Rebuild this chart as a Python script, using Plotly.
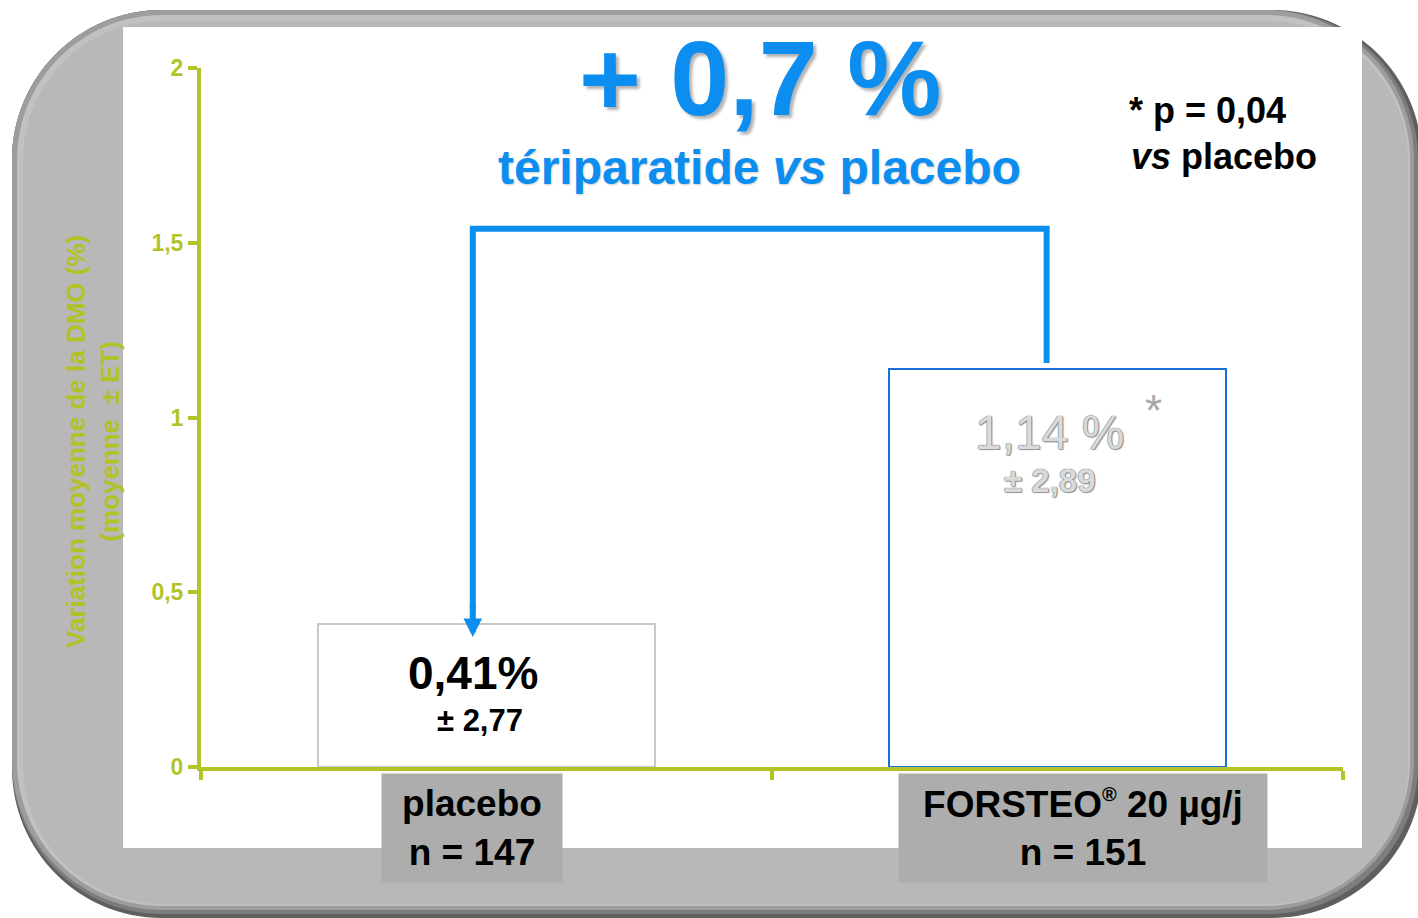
import plotly.graph_objects as go

# ---------------- data ----------------
categories = ["placebo", "FORSTEO"]
cat_labels = ["placebo<br>n = 147",
              "FORSTEO<sup><span style='font-size:20px'>®</span></sup> 20 µg/j<br>n = 151"]
means = [0.41, 1.14]
sds = [2.77, 2.89]
y_tickvals = [0, 0.5, 1, 1.5, 2]
y_ticktext = ["0", "0,5", "1", "1,5", "2"]

# ---------------- style ----------------
W, H = 1418, 918
L, R, T, B = 201, 1343, 68, 767
GREEN = "#b4c32a"
BLUE = "#0c8ef0"
FONT = "Liberation Sans, Arial, sans-serif"


def fx(px):
    return (px - L) / (R - L)


def fy(py):
    return (B - py) / (B - T)


def rr(x0, y0, x1, y1, r):
    k = 0.5523 * r
    pts = [
        ("M", [(x0 + r, y0)]),
        ("L", [(x1 - r, y0)]),
        ("C", [(x1 - r + k, y0), (x1, y0 + r - k), (x1, y0 + r)]),
        ("L", [(x1, y1 - r)]),
        ("C", [(x1, y1 - r + k), (x1 - r + k, y1), (x1 - r, y1)]),
        ("L", [(x0 + r, y1)]),
        ("C", [(x0 + r - k, y1), (x0, y1 - r + k), (x0, y1 - r)]),
        ("L", [(x0, y0 + r)]),
        ("C", [(x0, y0 + r - k), (x0 + r - k, y0), (x0 + r, y0)]),
    ]
    s = ""
    for cmd, ps in pts:
        s += cmd + " ".join(f"{fx(a):.5f},{fy(b):.5f}" for a, b in ps) + " "
    return s + "Z"


def fmt(v, nd=2):
    return f"{v:.{nd}f}".replace(".", ",")


shapes = []
# frame (simulated bevel with layered rounded rects)
frame_layers = [
    (12, 10, 1422, 918, 150, "#5f5f5f"),
    (12, 10, 1418, 914, 150, "#7d7d7d"),
    (12, 10, 1414, 910, 150, "#9d9d9d"),
    (17, 15, 1410, 906, 145, "#c1c1c1"),
    (23, 21, 1408, 904, 139, "#b8b8b8"),
]
for (x0, y0, x1, y1, rad, col) in frame_layers:
    shapes.append(dict(type="path", path=rr(x0, y0, x1, y1, rad), xref="paper", yref="paper",
                       fillcolor=col, line=dict(width=0), layer="below"))
# inner white panel
shapes.append(dict(type="rect", xref="paper", yref="paper", x0=fx(123), x1=fx(1362),
                   y0=fy(848), y1=fy(27), fillcolor="white", line=dict(width=0), layer="below"))

# bracket between bars
bx = [0 - 0.024, 1 - 0.019]
btop = 1.54
shapes.append(dict(type="path", xref="x", yref="y",
                   path=f"M{bx[0]},0.45 L{bx[0]},{btop} L{bx[1]},{btop} L{bx[1]},{means[1] + 0.016}",
                   line=dict(color=BLUE, width=6)))

fig = go.Figure()
fig.add_trace(go.Bar(
    x=[0, 1], y=means, width=0.59,
    marker=dict(color="white", line=dict(color=["#c9c9c9", "#1a6fd8"], width=2)),
    hoverinfo="skip", showlegend=False,
))

ann = []
# arrow head on left leg
ann.append(dict(x=bx[0], y=0.372, ax=bx[0], ay=0.47, xref="x", yref="y", axref="x", ayref="y",
                text="", showarrow=True, arrowhead=2, arrowsize=0.62, arrowwidth=6, arrowcolor=BLUE))


def txt(x, y, text, size, color="black", xref="paper", yref="paper", xanchor="center", **fkw):
    return dict(x=x, y=y, xref=xref, yref=yref, showarrow=False, text=text,
                xanchor=xanchor, yanchor="middle",
                font=dict(family=FONT, size=size, color=color, **fkw))


# titles
diff = round(means[1] - means[0], 1)
ann.append(txt(fx(760), fy(78), f"<b>+ {fmt(diff, 1)} %</b>", 106, BLUE,
               shadow="3px 3px 3px rgba(0,0,0,0.3)"))
ann.append(txt(fx(759), fy(167), "<b>tériparatide <i>vs</i> placebo</b>", 48, BLUE,
               shadow="1px 1px 2px rgba(0,0,0,0.2)"))
ann.append(txt(fx(1127), fy(111), "<b>* p = 0,04</b>", 36, xanchor="left"))
ann.append(txt(fx(1129), fy(156), "<b><i>vs</i> placebo</b>", 36, xanchor="left"))
# value labels
ann.append(txt(-0.023, 0.269, f"<b>{fmt(means[0])}%</b>", 46, xref="x", yref="y"))
ann.append(txt(-0.012, 0.134, f"<b>± {fmt(sds[0])}</b>", 31, xref="x", yref="y"))
grey_shadow = "0 0 1px #6f6f6f, 0 0 1px #6f6f6f, 1px 1px 1px #999"
ann.append(txt(1 - 0.014, 0.958, f"{fmt(means[1])} %", 48, "#dadada", xref="x", yref="y",
               shadow=grey_shadow))
ann.append(txt(1 - 0.014, 0.821, f"<b>± {fmt(sds[1])}</b>", 33, "#dadada", xref="x", yref="y",
               shadow=grey_shadow))
ann.append(txt(1.168, 1.02, "*", 44, "#a8a8a8", xref="x", yref="y"))
# category label boxes
box_dx = [-0.025, 0.045]
box_w = [178, 366]
for i in range(2):
    lines = "<br>".join(f"<b>{s}</b>" for s in cat_labels[i].split("<br>"))
    ann.append(dict(x=i + box_dx[i], y=fy(773), xref="x", yref="paper", xanchor="center",
                    yanchor="top", showarrow=False, text=lines,
                    bgcolor="#adadad", width=box_w[i], height=106, align="center",
                    font=dict(family=FONT, size=37, color="black")))
# y axis title
ann.append(dict(x=fx(93), y=fy(442), xref="paper", yref="paper", showarrow=False, textangle=-90,
                xanchor="center", yanchor="middle",
                text="<b>Variation moyenne de la DMO (%)</b><br><b>(moyenne\u00a0\u00a0± ET)</b>",
                font=dict(family=FONT, size=26, color="#b2c224", weight="bold")))

fig.update_layout(
    width=W, height=H, autosize=False,
    margin=dict(l=L, r=W - R, t=T, b=H - B),
    paper_bgcolor="white", plot_bgcolor="rgba(0,0,0,0)",
    shapes=shapes, annotations=ann, bargap=0,
    xaxis=dict(range=[-0.5, 1.5], showgrid=False, zeroline=False, showline=True,
               linecolor=GREEN, linewidth=4, tickvals=[-0.5, 0.5, 1.5], showticklabels=False,
               ticks="outside", ticklen=9, tickwidth=4, tickcolor=GREEN, fixedrange=True),
    yaxis=dict(range=[0, 2], showgrid=False, zeroline=False, showline=True,
               linecolor=GREEN, linewidth=4, tickvals=y_tickvals,
               ticktext=[f"<b>{t}</b>" for t in y_ticktext],
               ticks="outside", ticklen=9, tickwidth=4, tickcolor=GREEN,
               tickfont=dict(family=FONT, size=23, color=GREEN, weight="bold"), fixedrange=True),
)

fig.write_html("out.html", config={"displayModeBar": False},
               post_script="document.body.style.margin='0px';document.body.style.overflow='hidden';")
